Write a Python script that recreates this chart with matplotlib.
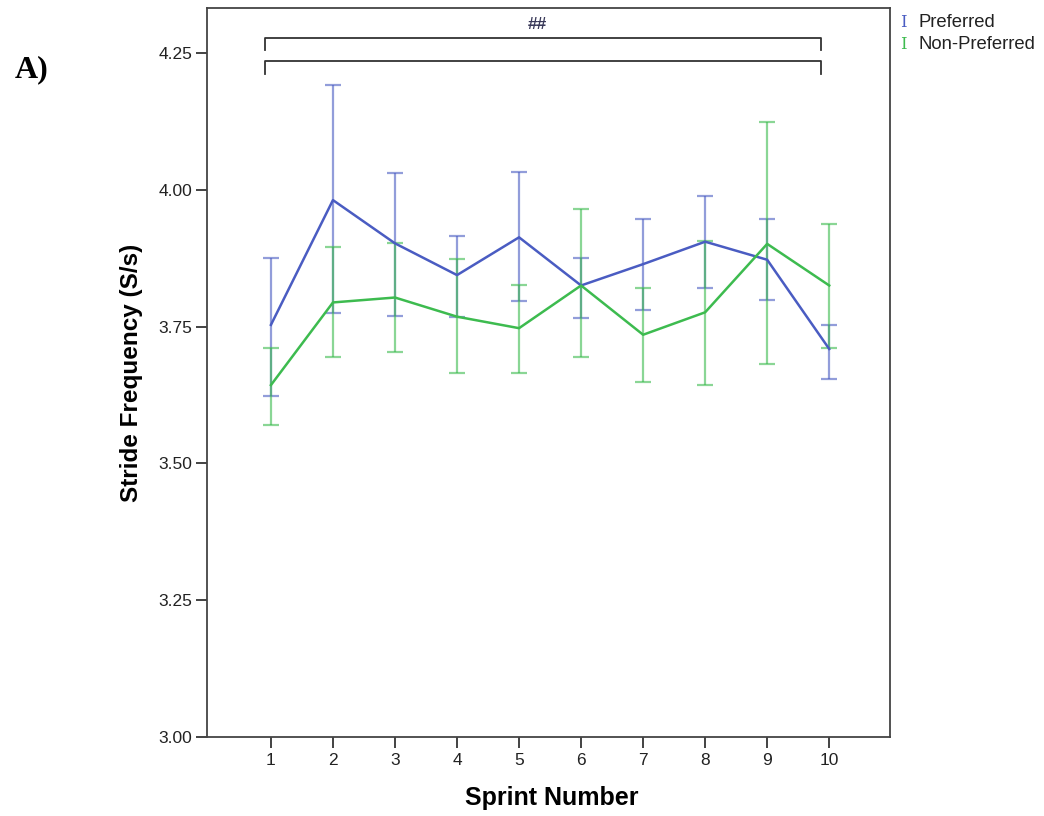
import numpy as np
import matplotlib
matplotlib.use('Agg')
import matplotlib.pyplot as plt

# sprint numbers and group means / error bar limits
sprints = [1, 2, 3, 4, 5, 6, 7, 8, 9, 10]

pref_mean = [3.753, 3.981, 3.902, 3.844, 3.913, 3.825, 3.864, 3.905, 3.872, 3.709]
pref_hi = [3.875, 4.191, 4.030, 3.916, 4.033, 3.875, 3.946, 3.989, 3.946, 3.753]
pref_lo = [3.623, 3.774, 3.769, 3.768, 3.796, 3.765, 3.781, 3.821, 3.799, 3.654]

nonpref_mean = [3.643, 3.794, 3.803, 3.768, 3.747, 3.825, 3.735, 3.776, 3.901, 3.825]
nonpref_hi = [3.711, 3.895, 3.903, 3.873, 3.826, 3.965, 3.820, 3.906, 4.123, 3.937]
nonpref_lo = [3.570, 3.694, 3.704, 3.665, 3.665, 3.695, 3.648, 3.644, 3.681, 3.710]

yticks = [3.00, 3.25, 3.50, 3.75, 4.00, 4.25]

blue = '#4a5cc2'
green = '#3dbb4f'

plt.rcParams['font.family'] = ['Liberation Sans', 'DejaVu Sans']

fig = plt.figure(figsize=(10.44, 8.16), dpi=100)
ax = fig.add_axes([0.1983, 0.0968, 0.6542, 0.8934])

def draw_group(mean, lo, hi, color):
    mean = np.array(mean)
    err = [mean - np.array(lo), np.array(hi) - mean]
    ax.errorbar(sprints, mean, yerr=err, fmt='none', ecolor=color, alpha=0.6,
                elinewidth=1.6, capsize=5.5, capthick=1.6, zorder=2)
    ax.plot(sprints, mean, color=color, lw=1.8, zorder=3)

draw_group(pref_mean, pref_lo, pref_hi, blue)
draw_group(nonpref_mean, nonpref_lo, nonpref_hi, green)

# significance brackets
for top, bot in [(4.277, 4.255), (4.235, 4.212)]:
    ax.plot([0.9, 0.9, 9.87, 9.87], [bot, top, top, bot], color='#333333', lw=1.3, zorder=3)
ax.text(5.29, 4.301, '##', ha='center', va='center', fontsize=12.5, color='#3a3a5a', fontweight='bold')

ax.set_xlim(-0.03, 10.98)
ax.set_ylim(3.0, 4.332)
ax.set_xticks(sprints)
ax.set_xticklabels([str(s) for s in sprints])
ax.set_yticks(yticks)
ax.set_yticklabels(['%.2f' % v for v in yticks])
ax.tick_params(axis='both', labelsize=12.5, colors='#222222', length=8, width=1.2, direction='out')
ax.tick_params(axis='y', pad=2.5)
ax.tick_params(axis='x', pad=3.5)
for s in ax.spines.values():
    s.set_color('#444444')
    s.set_linewidth(1.3)

ax.set_xlabel('Sprint Number', fontsize=18, fontweight='bold')
ax.set_ylabel('Stride Frequency (S/s)', fontsize=17.5, fontweight='bold')
ax.xaxis.set_label_coords(0.505, -0.067)
ax.yaxis.set_label_coords(-0.094, 0.5)

# legend drawn beside the plot
fig.text(0.862, 0.972, 'I', color=blue, fontsize=12, family='DejaVu Serif', va='center')
fig.text(0.8795, 0.972, 'Preferred', color='#222222', fontsize=13.3, va='center')
fig.text(0.862, 0.946, 'I', color=green, fontsize=12, family='DejaVu Serif', va='center')
fig.text(0.8795, 0.946, 'Non-Preferred', color='#222222', fontsize=13.3, va='center')

fig.text(0.014, 0.914, 'A)', fontsize=23, fontweight='bold', family='Liberation Serif', va='center')

fig.savefig('out.png', dpi=100)
